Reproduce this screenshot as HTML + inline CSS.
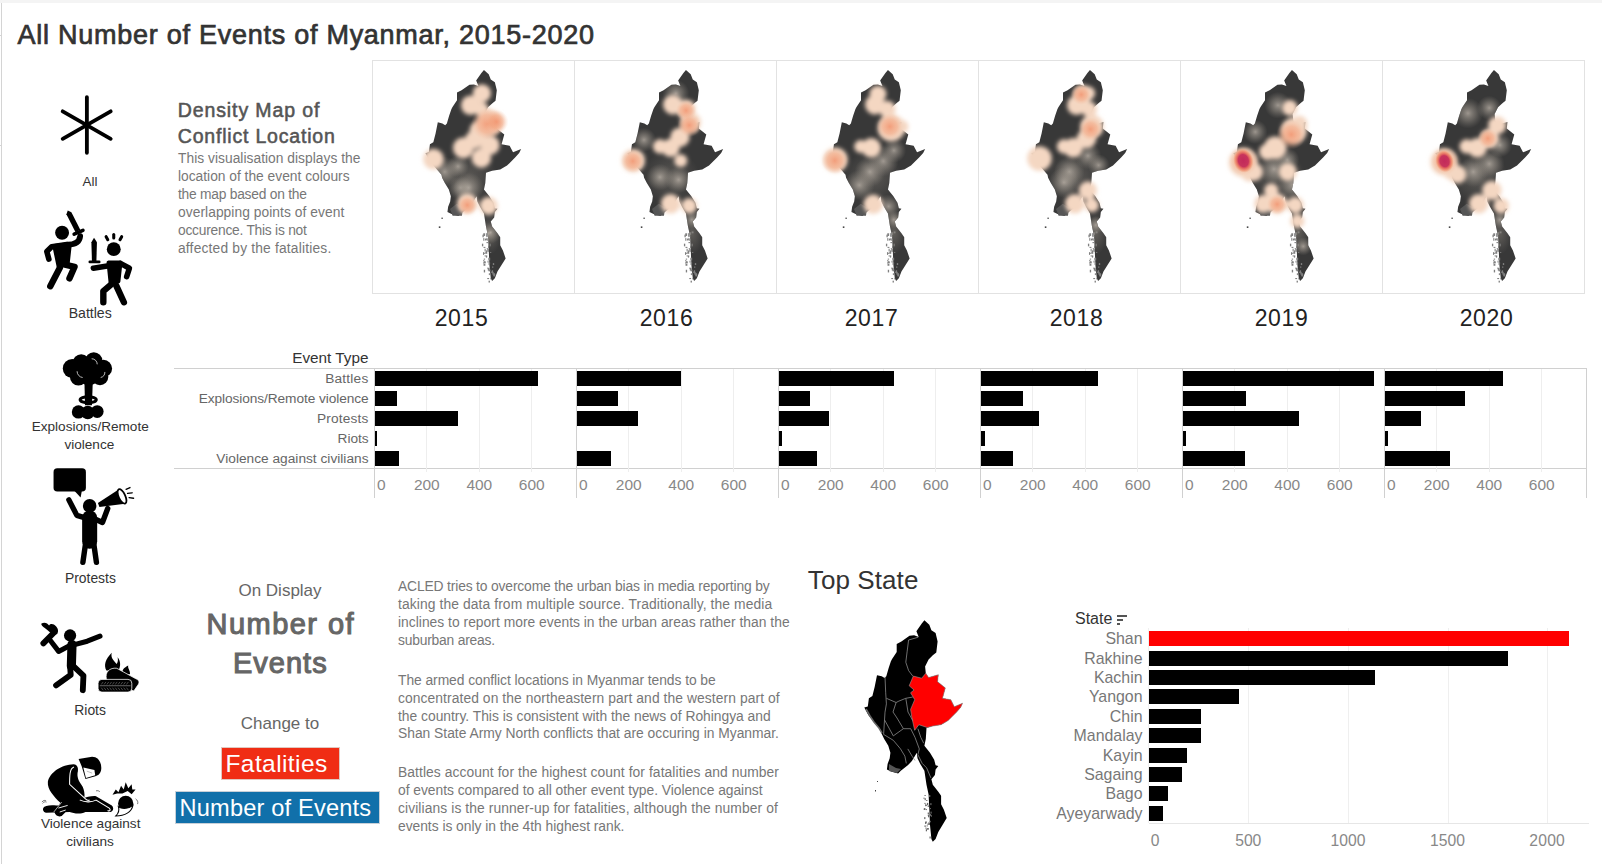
<!DOCTYPE html>
<html><head><meta charset="utf-8">
<style>
html,body{margin:0;padding:0;background:#fff;}
body{width:1602px;height:864px;position:relative;overflow:hidden;font-family:"Liberation Sans",sans-serif;}
.t{position:absolute;white-space:nowrap;}
.r{position:absolute;}
svg{position:absolute;}
</style></head><body>
<div class="r" style="left:0px;top:0px;width:1602px;height:3px;background:#f4f4f4;"></div><div class="r" style="left:1px;top:3px;width:1px;height:861px;background:#d4d4d4;"></div><div class="r" style="left:0px;top:35px;width:1px;height:1px;background:#d4d4d4;"></div><div class="r" style="left:0px;top:145px;width:1px;height:1px;background:#d4d4d4;"></div><div class="t" style="top:18.54px;font-size:27px;line-height:32.4px;color:#333;letter-spacing:0.737px;left:17.6px;-webkit-text-stroke:0.7px #333;">All Number of Events of Myanmar, 2015-2020</div><div class="t" style="top:98.54px;font-size:19.5px;line-height:23.4px;color:#555;letter-spacing:0.885px;left:177.8px;-webkit-text-stroke:0.55px #555;">Density Map of</div><div class="t" style="top:125.44px;font-size:19.5px;line-height:23.4px;color:#555;letter-spacing:0.803px;left:177.8px;-webkit-text-stroke:0.55px #555;">Conflict Location</div><div class="t" style="top:150.64px;font-size:13.8px;line-height:16.56px;color:#777;letter-spacing:0.023px;left:178px;">This visualisation displays the</div><div class="t" style="top:168.64px;font-size:13.8px;line-height:16.56px;color:#777;letter-spacing:-0.009px;left:178px;">location of the event colours</div><div class="t" style="top:186.64px;font-size:13.8px;line-height:16.56px;color:#777;letter-spacing:-0.242px;left:178px;">the map based on the</div><div class="t" style="top:204.64px;font-size:13.8px;line-height:16.56px;color:#777;letter-spacing:0.052px;left:178px;">overlapping points of event</div><div class="t" style="top:222.64px;font-size:13.8px;line-height:16.56px;color:#777;letter-spacing:-0.243px;left:178px;">occurence. This is not</div><div class="t" style="top:240.64px;font-size:13.8px;line-height:16.56px;color:#777;letter-spacing:0.181px;left:178px;">affected by the fatalities.</div><div class="r" style="left:372px;top:60px;width:1213px;height:1px;background:#e2e2e2;"></div><div class="r" style="left:372px;top:293px;width:1213px;height:1px;background:#e2e2e2;"></div><div class="r" style="left:372px;top:60px;width:1px;height:234px;background:#e2e2e2;"></div><div class="r" style="left:574px;top:60px;width:1px;height:234px;background:#e2e2e2;"></div><div class="r" style="left:776px;top:60px;width:1px;height:234px;background:#e2e2e2;"></div><div class="r" style="left:978px;top:60px;width:1px;height:234px;background:#e2e2e2;"></div><div class="r" style="left:1180px;top:60px;width:1px;height:234px;background:#e2e2e2;"></div><div class="r" style="left:1382px;top:60px;width:1px;height:234px;background:#e2e2e2;"></div><div class="r" style="left:1584px;top:60px;width:1px;height:234px;background:#e2e2e2;"></div><div class="t" style="top:304.63px;font-size:23px;line-height:27.6px;color:#222;letter-spacing:0.6px;left:-38.5px;width:1000px;text-align:center;">2015</div><div class="t" style="top:304.63px;font-size:23px;line-height:27.6px;color:#222;letter-spacing:0.6px;left:166.5px;width:1000px;text-align:center;">2016</div><div class="t" style="top:304.63px;font-size:23px;line-height:27.6px;color:#222;letter-spacing:0.6px;left:371.5px;width:1000px;text-align:center;">2017</div><div class="t" style="top:304.63px;font-size:23px;line-height:27.6px;color:#222;letter-spacing:0.6px;left:576.5px;width:1000px;text-align:center;">2018</div><div class="t" style="top:304.63px;font-size:23px;line-height:27.6px;color:#222;letter-spacing:0.6px;left:781.5px;width:1000px;text-align:center;">2019</div><div class="t" style="top:304.63px;font-size:23px;line-height:27.6px;color:#222;letter-spacing:0.6px;left:986.5px;width:1000px;text-align:center;">2020</div><div class="t" style="top:348.92px;font-size:15.3px;line-height:18.36px;color:#333;left:-631.5px;width:1000px;text-align:right;">Event Type</div><div class="r" style="left:174px;top:368px;width:1413px;height:1px;background:#d0d0d0;"></div><div class="r" style="left:174px;top:468px;width:1413px;height:1px;background:#d0d0d0;"></div><div class="t" style="top:370.93px;font-size:13.7px;line-height:16.44px;color:#666;letter-spacing:0.217px;left:-631.5px;width:1000px;text-align:right;">Battles</div><div class="t" style="top:390.93px;font-size:13.7px;line-height:16.44px;color:#666;letter-spacing:-0.08px;left:-631.5px;width:1000px;text-align:right;">Explosions/Remote violence</div><div class="t" style="top:410.93px;font-size:13.7px;line-height:16.44px;color:#666;letter-spacing:0.15px;left:-631.5px;width:1000px;text-align:right;">Protests</div><div class="t" style="top:430.93px;font-size:13.7px;line-height:16.44px;color:#666;letter-spacing:-0.05px;left:-631.5px;width:1000px;text-align:right;">Riots</div><div class="t" style="top:450.93px;font-size:13.7px;line-height:16.44px;color:#666;letter-spacing:0.01px;left:-631.5px;width:1000px;text-align:right;">Violence against civilians</div><div class="r" style="left:426px;top:369px;width:1px;height:103px;background:#eeeeee;"></div><div class="r" style="left:479px;top:369px;width:1px;height:103px;background:#eeeeee;"></div><div class="r" style="left:531px;top:369px;width:1px;height:103px;background:#eeeeee;"></div><div class="r" style="left:374px;top:368px;width:1px;height:130px;background:#d0d0d0;"></div><div class="r" style="left:375px;top:371px;width:163px;height:15px;background:#000;"></div><div class="r" style="left:375px;top:391px;width:22px;height:15px;background:#000;"></div><div class="r" style="left:375px;top:411px;width:83px;height:15px;background:#000;"></div><div class="r" style="left:375px;top:431px;width:2px;height:15px;background:#000;"></div><div class="r" style="left:375px;top:451px;width:24px;height:15px;background:#000;"></div><div class="t" style="top:476.23px;font-size:15.5px;line-height:18.6px;color:#888;left:377px;">0</div><div class="t" style="top:476.23px;font-size:15.5px;line-height:18.6px;color:#888;left:-73.19999999999999px;width:1000px;text-align:center;">200</div><div class="t" style="top:476.23px;font-size:15.5px;line-height:18.6px;color:#888;left:-20.69999999999999px;width:1000px;text-align:center;">400</div><div class="t" style="top:476.23px;font-size:15.5px;line-height:18.6px;color:#888;left:31.799999999999955px;width:1000px;text-align:center;">600</div><div class="r" style="left:628px;top:369px;width:1px;height:103px;background:#eeeeee;"></div><div class="r" style="left:681px;top:369px;width:1px;height:103px;background:#eeeeee;"></div><div class="r" style="left:733px;top:369px;width:1px;height:103px;background:#eeeeee;"></div><div class="r" style="left:576px;top:368px;width:1px;height:130px;background:#d0d0d0;"></div><div class="r" style="left:577px;top:371px;width:104px;height:15px;background:#000;"></div><div class="r" style="left:577px;top:391px;width:41px;height:15px;background:#000;"></div><div class="r" style="left:577px;top:411px;width:61px;height:15px;background:#000;"></div><div class="r" style="left:577px;top:451px;width:34px;height:15px;background:#000;"></div><div class="t" style="top:476.23px;font-size:15.5px;line-height:18.6px;color:#888;left:579px;">0</div><div class="t" style="top:476.23px;font-size:15.5px;line-height:18.6px;color:#888;left:128.79999999999995px;width:1000px;text-align:center;">200</div><div class="t" style="top:476.23px;font-size:15.5px;line-height:18.6px;color:#888;left:181.29999999999995px;width:1000px;text-align:center;">400</div><div class="t" style="top:476.23px;font-size:15.5px;line-height:18.6px;color:#888;left:233.79999999999995px;width:1000px;text-align:center;">600</div><div class="r" style="left:830px;top:369px;width:1px;height:103px;background:#eeeeee;"></div><div class="r" style="left:883px;top:369px;width:1px;height:103px;background:#eeeeee;"></div><div class="r" style="left:935px;top:369px;width:1px;height:103px;background:#eeeeee;"></div><div class="r" style="left:778px;top:368px;width:1px;height:130px;background:#d0d0d0;"></div><div class="r" style="left:779px;top:371px;width:115px;height:15px;background:#000;"></div><div class="r" style="left:779px;top:391px;width:31px;height:15px;background:#000;"></div><div class="r" style="left:779px;top:411px;width:50px;height:15px;background:#000;"></div><div class="r" style="left:779px;top:431px;width:3px;height:15px;background:#000;"></div><div class="r" style="left:779px;top:451px;width:38px;height:15px;background:#000;"></div><div class="t" style="top:476.23px;font-size:15.5px;line-height:18.6px;color:#888;left:781px;">0</div><div class="t" style="top:476.23px;font-size:15.5px;line-height:18.6px;color:#888;left:330.79999999999995px;width:1000px;text-align:center;">200</div><div class="t" style="top:476.23px;font-size:15.5px;line-height:18.6px;color:#888;left:383.29999999999995px;width:1000px;text-align:center;">400</div><div class="t" style="top:476.23px;font-size:15.5px;line-height:18.6px;color:#888;left:435.79999999999995px;width:1000px;text-align:center;">600</div><div class="r" style="left:1032px;top:369px;width:1px;height:103px;background:#eeeeee;"></div><div class="r" style="left:1085px;top:369px;width:1px;height:103px;background:#eeeeee;"></div><div class="r" style="left:1137px;top:369px;width:1px;height:103px;background:#eeeeee;"></div><div class="r" style="left:980px;top:368px;width:1px;height:130px;background:#d0d0d0;"></div><div class="r" style="left:981px;top:371px;width:117px;height:15px;background:#000;"></div><div class="r" style="left:981px;top:391px;width:42px;height:15px;background:#000;"></div><div class="r" style="left:981px;top:411px;width:58px;height:15px;background:#000;"></div><div class="r" style="left:981px;top:431px;width:4px;height:15px;background:#000;"></div><div class="r" style="left:981px;top:451px;width:32px;height:15px;background:#000;"></div><div class="t" style="top:476.23px;font-size:15.5px;line-height:18.6px;color:#888;left:983px;">0</div><div class="t" style="top:476.23px;font-size:15.5px;line-height:18.6px;color:#888;left:532.8px;width:1000px;text-align:center;">200</div><div class="t" style="top:476.23px;font-size:15.5px;line-height:18.6px;color:#888;left:585.3px;width:1000px;text-align:center;">400</div><div class="t" style="top:476.23px;font-size:15.5px;line-height:18.6px;color:#888;left:637.8px;width:1000px;text-align:center;">600</div><div class="r" style="left:1234px;top:369px;width:1px;height:103px;background:#eeeeee;"></div><div class="r" style="left:1287px;top:369px;width:1px;height:103px;background:#eeeeee;"></div><div class="r" style="left:1339px;top:369px;width:1px;height:103px;background:#eeeeee;"></div><div class="r" style="left:1182px;top:368px;width:1px;height:130px;background:#d0d0d0;"></div><div class="r" style="left:1183px;top:371px;width:191px;height:15px;background:#000;"></div><div class="r" style="left:1183px;top:391px;width:63px;height:15px;background:#000;"></div><div class="r" style="left:1183px;top:411px;width:116px;height:15px;background:#000;"></div><div class="r" style="left:1183px;top:431px;width:3px;height:15px;background:#000;"></div><div class="r" style="left:1183px;top:451px;width:62px;height:15px;background:#000;"></div><div class="t" style="top:476.23px;font-size:15.5px;line-height:18.6px;color:#888;left:1185px;">0</div><div class="t" style="top:476.23px;font-size:15.5px;line-height:18.6px;color:#888;left:734.8px;width:1000px;text-align:center;">200</div><div class="t" style="top:476.23px;font-size:15.5px;line-height:18.6px;color:#888;left:787.3px;width:1000px;text-align:center;">400</div><div class="t" style="top:476.23px;font-size:15.5px;line-height:18.6px;color:#888;left:839.8px;width:1000px;text-align:center;">600</div><div class="r" style="left:1436px;top:369px;width:1px;height:103px;background:#eeeeee;"></div><div class="r" style="left:1489px;top:369px;width:1px;height:103px;background:#eeeeee;"></div><div class="r" style="left:1541px;top:369px;width:1px;height:103px;background:#eeeeee;"></div><div class="r" style="left:1384px;top:368px;width:1px;height:130px;background:#d0d0d0;"></div><div class="r" style="left:1385px;top:371px;width:118px;height:15px;background:#000;"></div><div class="r" style="left:1385px;top:391px;width:80px;height:15px;background:#000;"></div><div class="r" style="left:1385px;top:411px;width:36px;height:15px;background:#000;"></div><div class="r" style="left:1385px;top:431px;width:3px;height:15px;background:#000;"></div><div class="r" style="left:1385px;top:451px;width:65px;height:15px;background:#000;"></div><div class="t" style="top:476.23px;font-size:15.5px;line-height:18.6px;color:#888;left:1387px;">0</div><div class="t" style="top:476.23px;font-size:15.5px;line-height:18.6px;color:#888;left:936.8px;width:1000px;text-align:center;">200</div><div class="t" style="top:476.23px;font-size:15.5px;line-height:18.6px;color:#888;left:989.3px;width:1000px;text-align:center;">400</div><div class="t" style="top:476.23px;font-size:15.5px;line-height:18.6px;color:#888;left:1041.8px;width:1000px;text-align:center;">600</div><div class="r" style="left:1586px;top:368px;width:1px;height:130px;background:#d0d0d0;"></div><div class="t" style="top:580.91px;font-size:17px;line-height:20.4px;color:#666;left:-220px;width:1000px;text-align:center;">On Display</div><div class="t" style="top:606.55px;font-size:29px;line-height:34.8px;color:#666;letter-spacing:1.469px;left:-219.2px;width:1000px;text-align:center;-webkit-text-stroke:1.1px #666;">Number of</div><div class="t" style="top:646.35px;font-size:29px;line-height:34.8px;color:#666;letter-spacing:1.03px;left:-219.7px;width:1000px;text-align:center;-webkit-text-stroke:1.1px #666;">Events</div><div class="t" style="top:713.71px;font-size:17px;line-height:20.4px;color:#666;left:-220px;width:1000px;text-align:center;">Change to</div><div class="r" style="left:222px;top:748px;width:117px;height:31px;background:#f02d14;box-shadow:0 0 0 1px #e0c8c0;"></div><div class="t" style="top:749.11px;font-size:24.5px;line-height:29.4px;color:#fff;letter-spacing:0.406px;left:225.5px;">Fatalities</div><div class="r" style="left:176px;top:792px;width:203px;height:31px;background:#1170aa;box-shadow:0 0 0 1px #c8d0d8;"></div><div class="t" style="top:793.56px;font-size:23.6px;line-height:28.32px;color:#fff;letter-spacing:0.187px;left:179.5px;">Number of Events</div><div class="t" style="top:578.49px;font-size:13.85px;line-height:16.62px;color:#777;letter-spacing:-0.157px;left:398px;">ACLED tries to overcome the urban bias in media reporting by</div><div class="t" style="top:596.29px;font-size:13.85px;line-height:16.62px;color:#777;letter-spacing:0.096px;left:398px;">taking the data from multiple source. Traditionally, the media</div><div class="t" style="top:614.09px;font-size:13.85px;line-height:16.62px;color:#777;letter-spacing:0.011px;left:398px;">inclines to report more events in the urban areas rather than the</div><div class="t" style="top:631.89px;font-size:13.85px;line-height:16.62px;color:#777;letter-spacing:-0.214px;left:398px;">suburban areas.</div><div class="t" style="top:672.09px;font-size:13.85px;line-height:16.62px;color:#777;letter-spacing:-0.064px;left:398px;">The armed conflict locations in Myanmar tends to be</div><div class="t" style="top:689.89px;font-size:13.85px;line-height:16.62px;color:#777;letter-spacing:0.075px;left:398px;">concentrated on the northeastern part and the western part of</div><div class="t" style="top:707.69px;font-size:13.85px;line-height:16.62px;color:#777;letter-spacing:-0.013px;left:398px;">the country. This is consistent with the news of Rohingya and</div><div class="t" style="top:725.49px;font-size:13.85px;line-height:16.62px;color:#777;letter-spacing:-0.012px;left:398px;">Shan State Army North conflicts that are occuring in Myanmar.</div><div class="t" style="top:764.29px;font-size:13.85px;line-height:16.62px;color:#777;letter-spacing:0.075px;left:398px;">Battles account for the highest count for fatalities and number</div><div class="t" style="top:782.09px;font-size:13.85px;line-height:16.62px;color:#777;letter-spacing:-0.039px;left:398px;">of events compared to all other event type. Violence against</div><div class="t" style="top:799.89px;font-size:13.85px;line-height:16.62px;color:#777;letter-spacing:0.091px;left:398px;">civilians is the runner-up for fatalities, although the number of</div><div class="t" style="top:817.69px;font-size:13.85px;line-height:16.62px;color:#777;letter-spacing:-0.037px;left:398px;">events is only in the 4th highest rank.</div><div class="t" style="top:565.49px;font-size:26px;line-height:31.2px;color:#333;letter-spacing:0.094px;left:807.8px;">Top State</div><div class="t" style="top:609.06px;font-size:16px;line-height:19.2px;color:#333;left:1075px;">State</div><div class="r" style="left:1117px;top:615px;width:10px;height:1.6px;background:#555;"></div><div class="r" style="left:1117px;top:619px;width:6px;height:1.6px;background:#555;"></div><div class="r" style="left:1117px;top:623px;width:3px;height:1.6px;background:#555;"></div><div class="r" style="left:1248px;top:628px;width:1px;height:195px;background:#efefef;"></div><div class="r" style="left:1348px;top:628px;width:1px;height:195px;background:#efefef;"></div><div class="r" style="left:1448px;top:628px;width:1px;height:195px;background:#efefef;"></div><div class="r" style="left:1547px;top:628px;width:1px;height:195px;background:#efefef;"></div><div class="r" style="left:1148px;top:628px;width:1px;height:195px;background:#f0f0f0;"></div><div class="r" style="left:1149px;top:823px;width:440px;height:1px;background:#e6e6e6;"></div><div class="r" style="left:1149px;top:631px;width:420px;height:15px;background:#ff0000;"></div><div class="t" style="top:629.35px;font-size:15.9px;line-height:19.08px;color:#777;left:142.5px;width:1000px;text-align:right;">Shan</div><div class="r" style="left:1149px;top:651px;width:359px;height:15px;background:#000;"></div><div class="t" style="top:649.35px;font-size:15.9px;line-height:19.08px;color:#777;left:142.5px;width:1000px;text-align:right;">Rakhine</div><div class="r" style="left:1149px;top:670px;width:226px;height:15px;background:#000;"></div><div class="t" style="top:668.35px;font-size:15.9px;line-height:19.08px;color:#777;left:142.5px;width:1000px;text-align:right;">Kachin</div><div class="r" style="left:1149px;top:689px;width:90px;height:15px;background:#000;"></div><div class="t" style="top:687.35px;font-size:15.9px;line-height:19.08px;color:#777;left:142.5px;width:1000px;text-align:right;">Yangon</div><div class="r" style="left:1149px;top:709px;width:52px;height:15px;background:#000;"></div><div class="t" style="top:707.35px;font-size:15.9px;line-height:19.08px;color:#777;left:142.5px;width:1000px;text-align:right;">Chin</div><div class="r" style="left:1149px;top:728px;width:52px;height:15px;background:#000;"></div><div class="t" style="top:726.35px;font-size:15.9px;line-height:19.08px;color:#777;left:142.5px;width:1000px;text-align:right;">Mandalay</div><div class="r" style="left:1149px;top:748px;width:38px;height:15px;background:#000;"></div><div class="t" style="top:746.35px;font-size:15.9px;line-height:19.08px;color:#777;left:142.5px;width:1000px;text-align:right;">Kayin</div><div class="r" style="left:1149px;top:767px;width:33px;height:15px;background:#000;"></div><div class="t" style="top:765.35px;font-size:15.9px;line-height:19.08px;color:#777;left:142.5px;width:1000px;text-align:right;">Sagaing</div><div class="r" style="left:1149px;top:786px;width:19px;height:15px;background:#000;"></div><div class="t" style="top:784.35px;font-size:15.9px;line-height:19.08px;color:#777;left:142.5px;width:1000px;text-align:right;">Bago</div><div class="r" style="left:1149px;top:806px;width:14px;height:15px;background:#000;"></div><div class="t" style="top:804.35px;font-size:15.9px;line-height:19.08px;color:#777;left:142.5px;width:1000px;text-align:right;">Ayeyarwady</div><div class="t" style="top:831.54px;font-size:15.7px;line-height:18.84px;color:#888;left:655px;width:1000px;text-align:center;">0</div><div class="t" style="top:831.54px;font-size:15.7px;line-height:18.84px;color:#888;letter-spacing:-0.1px;left:748.25px;width:1000px;text-align:center;">500</div><div class="t" style="top:831.54px;font-size:15.7px;line-height:18.84px;color:#888;letter-spacing:0.017px;left:847.8999999999999px;width:1000px;text-align:center;">1000</div><div class="t" style="top:831.54px;font-size:15.7px;line-height:18.84px;color:#888;letter-spacing:0.017px;left:947.55px;width:1000px;text-align:center;">1500</div><div class="t" style="top:831.54px;font-size:15.7px;line-height:18.84px;color:#888;letter-spacing:0.183px;left:1047.1999999999998px;width:1000px;text-align:center;">2000</div><div class="t" style="top:174.02px;font-size:13.4px;line-height:16.08px;color:#333;left:-410px;width:1000px;text-align:center;">All</div><div class="t" style="top:304.55px;font-size:14.1px;line-height:16.92px;color:#333;left:-409.8px;width:1000px;text-align:center;">Battles</div><div class="t" style="top:419.23px;font-size:13.6px;line-height:16.32px;color:#333;left:-409.8px;width:1000px;text-align:center;">Explosions/Remote</div><div class="t" style="top:437.23px;font-size:13.6px;line-height:16.32px;color:#333;left:-410.7px;width:1000px;text-align:center;">violence</div><div class="t" style="top:569.84px;font-size:13.9px;line-height:16.68px;color:#333;left:-409.6px;width:1000px;text-align:center;">Protests</div><div class="t" style="top:702.24px;font-size:13.9px;line-height:16.68px;color:#333;left:-409.9px;width:1000px;text-align:center;">Riots</div><div class="t" style="top:816.33px;font-size:13.6px;line-height:16.32px;color:#333;left:-409.3px;width:1000px;text-align:center;">Violence against</div><div class="t" style="top:833.93px;font-size:13.6px;line-height:16.32px;color:#333;left:-410px;width:1000px;text-align:center;">civilians</div>
<svg width="0" height="0" style="position:absolute"><defs>
<clipPath id="mmclip"><path d="M277.6,37.9 L295.5,53.7 L303.2,73.7 L318.6,83.7 L325.9,113.4 L321.1,153.1 L308.3,163.1 L293.0,177.8 L280.2,202.8 L282.7,227.5 L293.0,242.5 L328.4,232.5 L325.9,257.6 L354.0,279.7 L343.8,316.9 L374.1,321.9 L386.9,347.0 L417.3,334.5 L410.0,349.5 L394.6,366.6 L364.3,396.7 L338.7,411.3 L308.3,416.4 L285.3,423.2 L282.7,462.1 L277.6,486.8 L298.1,511.9 L313.4,536.5 L318.6,556.6 L328.4,559.1 L318.6,571.2 L316.0,591.3 L303.2,606.3 L308.3,625.9 L328.4,651.0 L338.7,665.7 L338.7,695.7 L348.9,715.4 L359.1,745.4 L343.8,770.1 L328.4,794.8 L318.6,819.8 L308.3,829.8 L303.2,819.8 L298.1,770.1 L295.5,710.4 L293.0,660.6 L285.3,625.9 L277.6,576.2 L262.6,551.6 L252.4,531.5 L249.8,511.9 L231.9,541.5 L216.9,556.6 L191.4,576.2 L181.5,586.2 L155.9,578.7 L140.5,571.2 L143.1,551.6 L150.8,531.5 L153.3,511.9 L145.7,486.8 L130.7,462.1 L120.4,442.1 L118.2,431.4 L93.0,401.7 L72.5,376.7 L57.9,350.2 L70.7,345.9 L74.7,316.9 L87.5,308.7 L95.9,275.8 L104.3,234.3 L121.5,238.2 L132.1,244.7 L138.3,238.2 L146.8,209.3 L155.2,184.6 L159.5,176.4 L176.4,151.3 L176.4,122.4 L193.5,114.1 L223.2,93.4 L240.0,91.6 L256.8,97.7 L248.4,76.9 L267.4,50.1Z"/></clipPath>
<filter id="bp" x="-60%" y="-60%" width="220%" height="220%"><feGaussianBlur stdDeviation="7"/></filter>
<filter id="bo" x="-60%" y="-60%" width="220%" height="220%"><feGaussianBlur stdDeviation="9"/></filter>
<radialGradient id="gg"><stop offset="0" stop-color="#c8beb3" stop-opacity="0.7"/><stop offset="0.5" stop-color="#a39b91" stop-opacity="0.42"/><stop offset="1" stop-color="#8a847c" stop-opacity="0"/></radialGradient>
<radialGradient id="go"><stop offset="0" stop-color="#f2906a" stop-opacity="0.8"/><stop offset="0.55" stop-color="#f3a07a" stop-opacity="0.5"/><stop offset="1" stop-color="#f4c0a4" stop-opacity="0"/></radialGradient>
<radialGradient id="gr"><stop offset="0" stop-color="#c22a5a"/><stop offset="0.5" stop-color="#c8345c"/><stop offset="0.62" stop-color="#e0605e"/><stop offset="0.8" stop-color="#ee8a6c" stop-opacity="0.8"/><stop offset="1" stop-color="#f2a47e" stop-opacity="0"/></radialGradient>
<radialGradient id="gbase" cx="0.5" cy="0.5" r="0.5"><stop offset="0" stop-color="#8a847c" stop-opacity="0.7"/><stop offset="1" stop-color="#8a847c" stop-opacity="0"/></radialGradient>
</defs></svg>
<svg style="left:410px;top:60px" width="130" height="230" viewBox="0 0 488 864"><path d="M277.6,37.9 L295.5,53.7 L303.2,73.7 L318.6,83.7 L325.9,113.4 L321.1,153.1 L308.3,163.1 L293.0,177.8 L280.2,202.8 L282.7,227.5 L293.0,242.5 L328.4,232.5 L325.9,257.6 L354.0,279.7 L343.8,316.9 L374.1,321.9 L386.9,347.0 L417.3,334.5 L410.0,349.5 L394.6,366.6 L364.3,396.7 L338.7,411.3 L308.3,416.4 L285.3,423.2 L282.7,462.1 L277.6,486.8 L298.1,511.9 L313.4,536.5 L318.6,556.6 L328.4,559.1 L318.6,571.2 L316.0,591.3 L303.2,606.3 L308.3,625.9 L328.4,651.0 L338.7,665.7 L338.7,695.7 L348.9,715.4 L359.1,745.4 L343.8,770.1 L328.4,794.8 L318.6,819.8 L308.3,829.8 L303.2,819.8 L298.1,770.1 L295.5,710.4 L293.0,660.6 L285.3,625.9 L277.6,576.2 L262.6,551.6 L252.4,531.5 L249.8,511.9 L231.9,541.5 L216.9,556.6 L191.4,576.2 L181.5,586.2 L155.9,578.7 L140.5,571.2 L143.1,551.6 L150.8,531.5 L153.3,511.9 L145.7,486.8 L130.7,462.1 L120.4,442.1 L118.2,431.4 L93.0,401.7 L72.5,376.7 L57.9,350.2 L70.7,345.9 L74.7,316.9 L87.5,308.7 L95.9,275.8 L104.3,234.3 L121.5,238.2 L132.1,244.7 L138.3,238.2 L146.8,209.3 L155.2,184.6 L159.5,176.4 L176.4,151.3 L176.4,122.4 L193.5,114.1 L223.2,93.4 L240.0,91.6 L256.8,97.7 L248.4,76.9 L267.4,50.1Z" fill="#383838"/><rect x="276" y="702" width="7" height="4" fill="#808080"/><rect x="286" y="654" width="5" height="10" fill="#808080"/><rect x="285" y="651" width="4" height="4" fill="#808080"/><rect x="274" y="722" width="4" height="10" fill="#808080"/><rect x="301" y="721" width="4" height="4" fill="#808080"/><rect x="295" y="760" width="4" height="10" fill="#808080"/><rect x="275" y="751" width="4" height="4" fill="#808080"/><rect x="277" y="746" width="5" height="4" fill="#808080"/><rect x="294" y="743" width="7" height="10" fill="#808080"/><rect x="289" y="674" width="7" height="4" fill="#808080"/><rect x="291" y="711" width="4" height="10" fill="#808080"/><rect x="275" y="651" width="7" height="10" fill="#808080"/><rect x="283" y="721" width="7" height="7" fill="#808080"/><rect x="280" y="709" width="4" height="10" fill="#808080"/><rect x="277" y="788" width="5" height="10" fill="#808080"/><rect x="285" y="734" width="5" height="7" fill="#808080"/><rect x="276" y="756" width="7" height="7" fill="#808080"/><rect x="281" y="671" width="5" height="7" fill="#808080"/><rect x="290" y="647" width="7" height="10" fill="#808080"/><rect x="307" y="790" width="5" height="10" fill="#808080"/><rect x="288" y="707" width="5" height="4" fill="#808080"/><rect x="313" y="800" width="5" height="10" fill="#808080"/><rect x="276" y="766" width="7" height="7" fill="#808080"/><rect x="311" y="763" width="5" height="7" fill="#808080"/><rect x="308" y="776" width="5" height="4" fill="#808080"/><rect x="290" y="819" width="7" height="4" fill="#808080"/><rect x="280" y="734" width="5" height="4" fill="#808080"/><rect x="290" y="780" width="5" height="4" fill="#808080"/><rect x="283" y="672" width="5" height="4" fill="#808080"/><rect x="309" y="796" width="5" height="10" fill="#808080"/><rect x="284" y="719" width="5" height="4" fill="#808080"/><rect x="275" y="669" width="4" height="10" fill="#808080"/><rect x="287" y="684" width="7" height="4" fill="#808080"/><rect x="270" y="690" width="5" height="10" fill="#808080"/><rect x="291" y="710" width="4" height="10" fill="#808080"/><rect x="313" y="803" width="7" height="10" fill="#808080"/><rect x="292" y="781" width="7" height="10" fill="#808080"/><rect x="285" y="715" width="4" height="7" fill="#808080"/><rect x="275" y="761" width="4" height="4" fill="#808080"/><rect x="276" y="724" width="7" height="4" fill="#808080"/><rect x="288" y="659" width="7" height="4" fill="#808080"/><rect x="301" y="820" width="4" height="4" fill="#808080"/><rect x="279" y="757" width="5" height="7" fill="#808080"/><rect x="291" y="754" width="4" height="7" fill="#808080"/><rect x="295" y="829" width="5" height="7" fill="#808080"/><rect x="272" y="656" width="5" height="10" fill="#808080"/><rect x="299" y="690" width="4" height="10" fill="#808080"/><rect x="299" y="644" width="7" height="7" fill="#808080"/><rect x="287" y="668" width="4" height="10" fill="#808080"/><rect x="293" y="697" width="4" height="10" fill="#808080"/><rect x="296" y="801" width="4" height="7" fill="#808080"/><rect x="295" y="787" width="7" height="7" fill="#808080"/><rect x="297" y="761" width="4" height="4" fill="#808080"/><rect x="304" y="795" width="4" height="4" fill="#808080"/><rect x="285" y="738" width="4" height="4" fill="#808080"/><rect x="108" y="625" width="6" height="6" fill="#444"/><rect x="118" y="592" width="5" height="5" fill="#444"/><path d="M150,560 L175,540 L200,555 L195,585 L160,585Z" fill="#555"/><g clip-path="url(#mmclip)"><ellipse cx="220" cy="440" rx="110" ry="100" fill="url(#gbase)" opacity="0.6"/><ellipse cx="300" cy="650" rx="45" ry="80" fill="url(#gbase)" opacity="0.7"/><circle cx="180.0" cy="400.0" r="41.4" fill="url(#gg)"/><circle cx="190.0" cy="480.0" r="46.0" fill="url(#gg)"/><circle cx="220.0" cy="480.0" r="57.49999999999999" fill="url(#gg)"/><circle cx="300.0" cy="650.0" r="41.4" fill="url(#gg)"/><circle cx="130.0" cy="420.0" r="57.49999999999999" fill="url(#gg)"/></g><g filter="url(#bp)"><circle cx="270.0" cy="125.0" r="34.16" fill="#f4d7c2"/><circle cx="228.0" cy="170.0" r="36.6" fill="#f4d7c2"/><circle cx="268.0" cy="185.0" r="26.84" fill="#f4d7c2"/><circle cx="300.0" cy="235.0" r="48.8" fill="#f4d7c2"/><circle cx="260.0" cy="265.0" r="36.6" fill="#f4d7c2"/><circle cx="200.0" cy="330.0" r="39.04" fill="#f4d7c2"/><circle cx="240.0" cy="300.0" r="34.16" fill="#f4d7c2"/><circle cx="300.0" cy="320.0" r="36.6" fill="#f4d7c2"/><circle cx="268.0" cy="368.0" r="36.6" fill="#f4d7c2"/><circle cx="88.0" cy="372.0" r="39.04" fill="#f4d7c2"/><circle cx="215.0" cy="540.0" r="39.04" fill="#f4d7c2"/><circle cx="295.0" cy="548.0" r="34.16" fill="#f4d7c2"/></g><g><circle cx="290.0" cy="240.0" r="61.599999999999994" fill="url(#go)"/><circle cx="325.0" cy="232.0" r="44.8" fill="url(#go)"/><circle cx="215.0" cy="545.0" r="39.199999999999996" fill="url(#go)"/></g><g></g></svg>
<svg style="left:612px;top:60px" width="130" height="230" viewBox="0 0 488 864"><path d="M277.6,37.9 L295.5,53.7 L303.2,73.7 L318.6,83.7 L325.9,113.4 L321.1,153.1 L308.3,163.1 L293.0,177.8 L280.2,202.8 L282.7,227.5 L293.0,242.5 L328.4,232.5 L325.9,257.6 L354.0,279.7 L343.8,316.9 L374.1,321.9 L386.9,347.0 L417.3,334.5 L410.0,349.5 L394.6,366.6 L364.3,396.7 L338.7,411.3 L308.3,416.4 L285.3,423.2 L282.7,462.1 L277.6,486.8 L298.1,511.9 L313.4,536.5 L318.6,556.6 L328.4,559.1 L318.6,571.2 L316.0,591.3 L303.2,606.3 L308.3,625.9 L328.4,651.0 L338.7,665.7 L338.7,695.7 L348.9,715.4 L359.1,745.4 L343.8,770.1 L328.4,794.8 L318.6,819.8 L308.3,829.8 L303.2,819.8 L298.1,770.1 L295.5,710.4 L293.0,660.6 L285.3,625.9 L277.6,576.2 L262.6,551.6 L252.4,531.5 L249.8,511.9 L231.9,541.5 L216.9,556.6 L191.4,576.2 L181.5,586.2 L155.9,578.7 L140.5,571.2 L143.1,551.6 L150.8,531.5 L153.3,511.9 L145.7,486.8 L130.7,462.1 L120.4,442.1 L118.2,431.4 L93.0,401.7 L72.5,376.7 L57.9,350.2 L70.7,345.9 L74.7,316.9 L87.5,308.7 L95.9,275.8 L104.3,234.3 L121.5,238.2 L132.1,244.7 L138.3,238.2 L146.8,209.3 L155.2,184.6 L159.5,176.4 L176.4,151.3 L176.4,122.4 L193.5,114.1 L223.2,93.4 L240.0,91.6 L256.8,97.7 L248.4,76.9 L267.4,50.1Z" fill="#383838"/><rect x="276" y="702" width="7" height="4" fill="#808080"/><rect x="286" y="654" width="5" height="10" fill="#808080"/><rect x="285" y="651" width="4" height="4" fill="#808080"/><rect x="274" y="722" width="4" height="10" fill="#808080"/><rect x="301" y="721" width="4" height="4" fill="#808080"/><rect x="295" y="760" width="4" height="10" fill="#808080"/><rect x="275" y="751" width="4" height="4" fill="#808080"/><rect x="277" y="746" width="5" height="4" fill="#808080"/><rect x="294" y="743" width="7" height="10" fill="#808080"/><rect x="289" y="674" width="7" height="4" fill="#808080"/><rect x="291" y="711" width="4" height="10" fill="#808080"/><rect x="275" y="651" width="7" height="10" fill="#808080"/><rect x="283" y="721" width="7" height="7" fill="#808080"/><rect x="280" y="709" width="4" height="10" fill="#808080"/><rect x="277" y="788" width="5" height="10" fill="#808080"/><rect x="285" y="734" width="5" height="7" fill="#808080"/><rect x="276" y="756" width="7" height="7" fill="#808080"/><rect x="281" y="671" width="5" height="7" fill="#808080"/><rect x="290" y="647" width="7" height="10" fill="#808080"/><rect x="307" y="790" width="5" height="10" fill="#808080"/><rect x="288" y="707" width="5" height="4" fill="#808080"/><rect x="313" y="800" width="5" height="10" fill="#808080"/><rect x="276" y="766" width="7" height="7" fill="#808080"/><rect x="311" y="763" width="5" height="7" fill="#808080"/><rect x="308" y="776" width="5" height="4" fill="#808080"/><rect x="290" y="819" width="7" height="4" fill="#808080"/><rect x="280" y="734" width="5" height="4" fill="#808080"/><rect x="290" y="780" width="5" height="4" fill="#808080"/><rect x="283" y="672" width="5" height="4" fill="#808080"/><rect x="309" y="796" width="5" height="10" fill="#808080"/><rect x="284" y="719" width="5" height="4" fill="#808080"/><rect x="275" y="669" width="4" height="10" fill="#808080"/><rect x="287" y="684" width="7" height="4" fill="#808080"/><rect x="270" y="690" width="5" height="10" fill="#808080"/><rect x="291" y="710" width="4" height="10" fill="#808080"/><rect x="313" y="803" width="7" height="10" fill="#808080"/><rect x="292" y="781" width="7" height="10" fill="#808080"/><rect x="285" y="715" width="4" height="7" fill="#808080"/><rect x="275" y="761" width="4" height="4" fill="#808080"/><rect x="276" y="724" width="7" height="4" fill="#808080"/><rect x="288" y="659" width="7" height="4" fill="#808080"/><rect x="301" y="820" width="4" height="4" fill="#808080"/><rect x="279" y="757" width="5" height="7" fill="#808080"/><rect x="291" y="754" width="4" height="7" fill="#808080"/><rect x="295" y="829" width="5" height="7" fill="#808080"/><rect x="272" y="656" width="5" height="10" fill="#808080"/><rect x="299" y="690" width="4" height="10" fill="#808080"/><rect x="299" y="644" width="7" height="7" fill="#808080"/><rect x="287" y="668" width="4" height="10" fill="#808080"/><rect x="293" y="697" width="4" height="10" fill="#808080"/><rect x="296" y="801" width="4" height="7" fill="#808080"/><rect x="295" y="787" width="7" height="7" fill="#808080"/><rect x="297" y="761" width="4" height="4" fill="#808080"/><rect x="304" y="795" width="4" height="4" fill="#808080"/><rect x="285" y="738" width="4" height="4" fill="#808080"/><rect x="108" y="625" width="6" height="6" fill="#444"/><rect x="118" y="592" width="5" height="5" fill="#444"/><path d="M150,560 L175,540 L200,555 L195,585 L160,585Z" fill="#555"/><g clip-path="url(#mmclip)"><ellipse cx="220" cy="440" rx="110" ry="100" fill="url(#gbase)" opacity="0.6"/><ellipse cx="300" cy="650" rx="45" ry="80" fill="url(#gbase)" opacity="0.7"/><circle cx="240.0" cy="125.0" r="50.599999999999994" fill="url(#gg)"/><circle cx="120.0" cy="300.0" r="46.0" fill="url(#gg)"/><circle cx="180.0" cy="440.0" r="50.599999999999994" fill="url(#gg)"/><circle cx="250.0" cy="450.0" r="50.599999999999994" fill="url(#gg)"/><circle cx="300.0" cy="600.0" r="34.5" fill="url(#gg)"/></g><g filter="url(#bp)"><circle cx="228.0" cy="168.0" r="36.6" fill="#f4d7c2"/><circle cx="278.0" cy="185.0" r="36.6" fill="#f4d7c2"/><circle cx="295.0" cy="235.0" r="39.04" fill="#f4d7c2"/><circle cx="255.0" cy="290.0" r="36.6" fill="#f4d7c2"/><circle cx="220.0" cy="330.0" r="34.16" fill="#f4d7c2"/><circle cx="180.0" cy="325.0" r="26.84" fill="#f4d7c2"/><circle cx="258.0" cy="378.0" r="24.4" fill="#f4d7c2"/><circle cx="80.0" cy="378.0" r="43.92" fill="#f4d7c2"/><circle cx="220.0" cy="540.0" r="36.6" fill="#f4d7c2"/><circle cx="290.0" cy="548.0" r="29.28" fill="#f4d7c2"/></g><g><circle cx="278.0" cy="190.0" r="39.199999999999996" fill="url(#go)"/><circle cx="290.0" cy="245.0" r="44.8" fill="url(#go)"/><circle cx="78.0" cy="380.0" r="44.8" fill="url(#go)"/></g><g></g></svg>
<svg style="left:814px;top:60px" width="130" height="230" viewBox="0 0 488 864"><path d="M277.6,37.9 L295.5,53.7 L303.2,73.7 L318.6,83.7 L325.9,113.4 L321.1,153.1 L308.3,163.1 L293.0,177.8 L280.2,202.8 L282.7,227.5 L293.0,242.5 L328.4,232.5 L325.9,257.6 L354.0,279.7 L343.8,316.9 L374.1,321.9 L386.9,347.0 L417.3,334.5 L410.0,349.5 L394.6,366.6 L364.3,396.7 L338.7,411.3 L308.3,416.4 L285.3,423.2 L282.7,462.1 L277.6,486.8 L298.1,511.9 L313.4,536.5 L318.6,556.6 L328.4,559.1 L318.6,571.2 L316.0,591.3 L303.2,606.3 L308.3,625.9 L328.4,651.0 L338.7,665.7 L338.7,695.7 L348.9,715.4 L359.1,745.4 L343.8,770.1 L328.4,794.8 L318.6,819.8 L308.3,829.8 L303.2,819.8 L298.1,770.1 L295.5,710.4 L293.0,660.6 L285.3,625.9 L277.6,576.2 L262.6,551.6 L252.4,531.5 L249.8,511.9 L231.9,541.5 L216.9,556.6 L191.4,576.2 L181.5,586.2 L155.9,578.7 L140.5,571.2 L143.1,551.6 L150.8,531.5 L153.3,511.9 L145.7,486.8 L130.7,462.1 L120.4,442.1 L118.2,431.4 L93.0,401.7 L72.5,376.7 L57.9,350.2 L70.7,345.9 L74.7,316.9 L87.5,308.7 L95.9,275.8 L104.3,234.3 L121.5,238.2 L132.1,244.7 L138.3,238.2 L146.8,209.3 L155.2,184.6 L159.5,176.4 L176.4,151.3 L176.4,122.4 L193.5,114.1 L223.2,93.4 L240.0,91.6 L256.8,97.7 L248.4,76.9 L267.4,50.1Z" fill="#383838"/><rect x="276" y="702" width="7" height="4" fill="#808080"/><rect x="286" y="654" width="5" height="10" fill="#808080"/><rect x="285" y="651" width="4" height="4" fill="#808080"/><rect x="274" y="722" width="4" height="10" fill="#808080"/><rect x="301" y="721" width="4" height="4" fill="#808080"/><rect x="295" y="760" width="4" height="10" fill="#808080"/><rect x="275" y="751" width="4" height="4" fill="#808080"/><rect x="277" y="746" width="5" height="4" fill="#808080"/><rect x="294" y="743" width="7" height="10" fill="#808080"/><rect x="289" y="674" width="7" height="4" fill="#808080"/><rect x="291" y="711" width="4" height="10" fill="#808080"/><rect x="275" y="651" width="7" height="10" fill="#808080"/><rect x="283" y="721" width="7" height="7" fill="#808080"/><rect x="280" y="709" width="4" height="10" fill="#808080"/><rect x="277" y="788" width="5" height="10" fill="#808080"/><rect x="285" y="734" width="5" height="7" fill="#808080"/><rect x="276" y="756" width="7" height="7" fill="#808080"/><rect x="281" y="671" width="5" height="7" fill="#808080"/><rect x="290" y="647" width="7" height="10" fill="#808080"/><rect x="307" y="790" width="5" height="10" fill="#808080"/><rect x="288" y="707" width="5" height="4" fill="#808080"/><rect x="313" y="800" width="5" height="10" fill="#808080"/><rect x="276" y="766" width="7" height="7" fill="#808080"/><rect x="311" y="763" width="5" height="7" fill="#808080"/><rect x="308" y="776" width="5" height="4" fill="#808080"/><rect x="290" y="819" width="7" height="4" fill="#808080"/><rect x="280" y="734" width="5" height="4" fill="#808080"/><rect x="290" y="780" width="5" height="4" fill="#808080"/><rect x="283" y="672" width="5" height="4" fill="#808080"/><rect x="309" y="796" width="5" height="10" fill="#808080"/><rect x="284" y="719" width="5" height="4" fill="#808080"/><rect x="275" y="669" width="4" height="10" fill="#808080"/><rect x="287" y="684" width="7" height="4" fill="#808080"/><rect x="270" y="690" width="5" height="10" fill="#808080"/><rect x="291" y="710" width="4" height="10" fill="#808080"/><rect x="313" y="803" width="7" height="10" fill="#808080"/><rect x="292" y="781" width="7" height="10" fill="#808080"/><rect x="285" y="715" width="4" height="7" fill="#808080"/><rect x="275" y="761" width="4" height="4" fill="#808080"/><rect x="276" y="724" width="7" height="4" fill="#808080"/><rect x="288" y="659" width="7" height="4" fill="#808080"/><rect x="301" y="820" width="4" height="4" fill="#808080"/><rect x="279" y="757" width="5" height="7" fill="#808080"/><rect x="291" y="754" width="4" height="7" fill="#808080"/><rect x="295" y="829" width="5" height="7" fill="#808080"/><rect x="272" y="656" width="5" height="10" fill="#808080"/><rect x="299" y="690" width="4" height="10" fill="#808080"/><rect x="299" y="644" width="7" height="7" fill="#808080"/><rect x="287" y="668" width="4" height="10" fill="#808080"/><rect x="293" y="697" width="4" height="10" fill="#808080"/><rect x="296" y="801" width="4" height="7" fill="#808080"/><rect x="295" y="787" width="7" height="7" fill="#808080"/><rect x="297" y="761" width="4" height="4" fill="#808080"/><rect x="304" y="795" width="4" height="4" fill="#808080"/><rect x="285" y="738" width="4" height="4" fill="#808080"/><rect x="108" y="625" width="6" height="6" fill="#444"/><rect x="118" y="592" width="5" height="5" fill="#444"/><path d="M150,560 L175,540 L200,555 L195,585 L160,585Z" fill="#555"/><g clip-path="url(#mmclip)"><ellipse cx="220" cy="440" rx="110" ry="100" fill="url(#gbase)" opacity="0.6"/><ellipse cx="300" cy="650" rx="45" ry="80" fill="url(#gbase)" opacity="0.7"/><circle cx="300.0" cy="340.0" r="46.0" fill="url(#gg)"/><circle cx="260.0" cy="380.0" r="57.49999999999999" fill="url(#gg)"/><circle cx="210.0" cy="420.0" r="57.49999999999999" fill="url(#gg)"/><circle cx="170.0" cy="470.0" r="57.49999999999999" fill="url(#gg)"/><circle cx="280.0" cy="550.0" r="46.0" fill="url(#gg)"/><circle cx="300.0" cy="600.0" r="34.5" fill="url(#gg)"/></g><g filter="url(#bp)"><circle cx="240.0" cy="128.0" r="31.72" fill="#f4d7c2"/><circle cx="228.0" cy="168.0" r="36.6" fill="#f4d7c2"/><circle cx="275.0" cy="185.0" r="31.72" fill="#f4d7c2"/><circle cx="290.0" cy="255.0" r="51.24" fill="#f4d7c2"/><circle cx="330.0" cy="250.0" r="24.4" fill="#f4d7c2"/><circle cx="215.0" cy="330.0" r="36.6" fill="#f4d7c2"/><circle cx="175.0" cy="325.0" r="24.4" fill="#f4d7c2"/><circle cx="80.0" cy="375.0" r="46.36" fill="#f4d7c2"/><circle cx="222.0" cy="542.0" r="36.6" fill="#f4d7c2"/></g><g><circle cx="285.0" cy="250.0" r="50.4" fill="url(#go)"/><circle cx="78.0" cy="378.0" r="50.4" fill="url(#go)"/></g><g></g></svg>
<svg style="left:1016px;top:60px" width="130" height="230" viewBox="0 0 488 864"><path d="M277.6,37.9 L295.5,53.7 L303.2,73.7 L318.6,83.7 L325.9,113.4 L321.1,153.1 L308.3,163.1 L293.0,177.8 L280.2,202.8 L282.7,227.5 L293.0,242.5 L328.4,232.5 L325.9,257.6 L354.0,279.7 L343.8,316.9 L374.1,321.9 L386.9,347.0 L417.3,334.5 L410.0,349.5 L394.6,366.6 L364.3,396.7 L338.7,411.3 L308.3,416.4 L285.3,423.2 L282.7,462.1 L277.6,486.8 L298.1,511.9 L313.4,536.5 L318.6,556.6 L328.4,559.1 L318.6,571.2 L316.0,591.3 L303.2,606.3 L308.3,625.9 L328.4,651.0 L338.7,665.7 L338.7,695.7 L348.9,715.4 L359.1,745.4 L343.8,770.1 L328.4,794.8 L318.6,819.8 L308.3,829.8 L303.2,819.8 L298.1,770.1 L295.5,710.4 L293.0,660.6 L285.3,625.9 L277.6,576.2 L262.6,551.6 L252.4,531.5 L249.8,511.9 L231.9,541.5 L216.9,556.6 L191.4,576.2 L181.5,586.2 L155.9,578.7 L140.5,571.2 L143.1,551.6 L150.8,531.5 L153.3,511.9 L145.7,486.8 L130.7,462.1 L120.4,442.1 L118.2,431.4 L93.0,401.7 L72.5,376.7 L57.9,350.2 L70.7,345.9 L74.7,316.9 L87.5,308.7 L95.9,275.8 L104.3,234.3 L121.5,238.2 L132.1,244.7 L138.3,238.2 L146.8,209.3 L155.2,184.6 L159.5,176.4 L176.4,151.3 L176.4,122.4 L193.5,114.1 L223.2,93.4 L240.0,91.6 L256.8,97.7 L248.4,76.9 L267.4,50.1Z" fill="#383838"/><rect x="276" y="702" width="7" height="4" fill="#808080"/><rect x="286" y="654" width="5" height="10" fill="#808080"/><rect x="285" y="651" width="4" height="4" fill="#808080"/><rect x="274" y="722" width="4" height="10" fill="#808080"/><rect x="301" y="721" width="4" height="4" fill="#808080"/><rect x="295" y="760" width="4" height="10" fill="#808080"/><rect x="275" y="751" width="4" height="4" fill="#808080"/><rect x="277" y="746" width="5" height="4" fill="#808080"/><rect x="294" y="743" width="7" height="10" fill="#808080"/><rect x="289" y="674" width="7" height="4" fill="#808080"/><rect x="291" y="711" width="4" height="10" fill="#808080"/><rect x="275" y="651" width="7" height="10" fill="#808080"/><rect x="283" y="721" width="7" height="7" fill="#808080"/><rect x="280" y="709" width="4" height="10" fill="#808080"/><rect x="277" y="788" width="5" height="10" fill="#808080"/><rect x="285" y="734" width="5" height="7" fill="#808080"/><rect x="276" y="756" width="7" height="7" fill="#808080"/><rect x="281" y="671" width="5" height="7" fill="#808080"/><rect x="290" y="647" width="7" height="10" fill="#808080"/><rect x="307" y="790" width="5" height="10" fill="#808080"/><rect x="288" y="707" width="5" height="4" fill="#808080"/><rect x="313" y="800" width="5" height="10" fill="#808080"/><rect x="276" y="766" width="7" height="7" fill="#808080"/><rect x="311" y="763" width="5" height="7" fill="#808080"/><rect x="308" y="776" width="5" height="4" fill="#808080"/><rect x="290" y="819" width="7" height="4" fill="#808080"/><rect x="280" y="734" width="5" height="4" fill="#808080"/><rect x="290" y="780" width="5" height="4" fill="#808080"/><rect x="283" y="672" width="5" height="4" fill="#808080"/><rect x="309" y="796" width="5" height="10" fill="#808080"/><rect x="284" y="719" width="5" height="4" fill="#808080"/><rect x="275" y="669" width="4" height="10" fill="#808080"/><rect x="287" y="684" width="7" height="4" fill="#808080"/><rect x="270" y="690" width="5" height="10" fill="#808080"/><rect x="291" y="710" width="4" height="10" fill="#808080"/><rect x="313" y="803" width="7" height="10" fill="#808080"/><rect x="292" y="781" width="7" height="10" fill="#808080"/><rect x="285" y="715" width="4" height="7" fill="#808080"/><rect x="275" y="761" width="4" height="4" fill="#808080"/><rect x="276" y="724" width="7" height="4" fill="#808080"/><rect x="288" y="659" width="7" height="4" fill="#808080"/><rect x="301" y="820" width="4" height="4" fill="#808080"/><rect x="279" y="757" width="5" height="7" fill="#808080"/><rect x="291" y="754" width="4" height="7" fill="#808080"/><rect x="295" y="829" width="5" height="7" fill="#808080"/><rect x="272" y="656" width="5" height="10" fill="#808080"/><rect x="299" y="690" width="4" height="10" fill="#808080"/><rect x="299" y="644" width="7" height="7" fill="#808080"/><rect x="287" y="668" width="4" height="10" fill="#808080"/><rect x="293" y="697" width="4" height="10" fill="#808080"/><rect x="296" y="801" width="4" height="7" fill="#808080"/><rect x="295" y="787" width="7" height="7" fill="#808080"/><rect x="297" y="761" width="4" height="4" fill="#808080"/><rect x="304" y="795" width="4" height="4" fill="#808080"/><rect x="285" y="738" width="4" height="4" fill="#808080"/><rect x="108" y="625" width="6" height="6" fill="#444"/><rect x="118" y="592" width="5" height="5" fill="#444"/><path d="M150,560 L175,540 L200,555 L195,585 L160,585Z" fill="#555"/><g clip-path="url(#mmclip)"><ellipse cx="220" cy="440" rx="110" ry="100" fill="url(#gbase)" opacity="0.6"/><ellipse cx="300" cy="650" rx="45" ry="80" fill="url(#gbase)" opacity="0.7"/><circle cx="270.0" cy="360.0" r="50.599999999999994" fill="url(#gg)"/><circle cx="310.0" cy="395.0" r="41.4" fill="url(#gg)"/><circle cx="200.0" cy="420.0" r="57.49999999999999" fill="url(#gg)"/><circle cx="180.0" cy="460.0" r="57.49999999999999" fill="url(#gg)"/><circle cx="300.0" cy="620.0" r="34.5" fill="url(#gg)"/></g><g filter="url(#bp)"><circle cx="250.0" cy="130.0" r="36.6" fill="#f4d7c2"/><circle cx="228.0" cy="170.0" r="36.6" fill="#f4d7c2"/><circle cx="275.0" cy="185.0" r="29.28" fill="#f4d7c2"/><circle cx="270.0" cy="125.0" r="26.84" fill="#f4d7c2"/><circle cx="285.0" cy="250.0" r="43.92" fill="#f4d7c2"/><circle cx="265.0" cy="295.0" r="36.6" fill="#f4d7c2"/><circle cx="215.0" cy="330.0" r="36.6" fill="#f4d7c2"/><circle cx="180.0" cy="325.0" r="26.84" fill="#f4d7c2"/><circle cx="88.0" cy="370.0" r="46.36" fill="#f4d7c2"/><circle cx="270.0" cy="490.0" r="34.16" fill="#f4d7c2"/><circle cx="220.0" cy="540.0" r="36.6" fill="#f4d7c2"/><circle cx="285.0" cy="545.0" r="26.84" fill="#f4d7c2"/></g><g><circle cx="245.0" cy="130.0" r="39.199999999999996" fill="url(#go)"/><circle cx="280.0" cy="260.0" r="44.8" fill="url(#go)"/></g><g></g></svg>
<svg style="left:1218px;top:60px" width="130" height="230" viewBox="0 0 488 864"><path d="M277.6,37.9 L295.5,53.7 L303.2,73.7 L318.6,83.7 L325.9,113.4 L321.1,153.1 L308.3,163.1 L293.0,177.8 L280.2,202.8 L282.7,227.5 L293.0,242.5 L328.4,232.5 L325.9,257.6 L354.0,279.7 L343.8,316.9 L374.1,321.9 L386.9,347.0 L417.3,334.5 L410.0,349.5 L394.6,366.6 L364.3,396.7 L338.7,411.3 L308.3,416.4 L285.3,423.2 L282.7,462.1 L277.6,486.8 L298.1,511.9 L313.4,536.5 L318.6,556.6 L328.4,559.1 L318.6,571.2 L316.0,591.3 L303.2,606.3 L308.3,625.9 L328.4,651.0 L338.7,665.7 L338.7,695.7 L348.9,715.4 L359.1,745.4 L343.8,770.1 L328.4,794.8 L318.6,819.8 L308.3,829.8 L303.2,819.8 L298.1,770.1 L295.5,710.4 L293.0,660.6 L285.3,625.9 L277.6,576.2 L262.6,551.6 L252.4,531.5 L249.8,511.9 L231.9,541.5 L216.9,556.6 L191.4,576.2 L181.5,586.2 L155.9,578.7 L140.5,571.2 L143.1,551.6 L150.8,531.5 L153.3,511.9 L145.7,486.8 L130.7,462.1 L120.4,442.1 L118.2,431.4 L93.0,401.7 L72.5,376.7 L57.9,350.2 L70.7,345.9 L74.7,316.9 L87.5,308.7 L95.9,275.8 L104.3,234.3 L121.5,238.2 L132.1,244.7 L138.3,238.2 L146.8,209.3 L155.2,184.6 L159.5,176.4 L176.4,151.3 L176.4,122.4 L193.5,114.1 L223.2,93.4 L240.0,91.6 L256.8,97.7 L248.4,76.9 L267.4,50.1Z" fill="#383838"/><rect x="276" y="702" width="7" height="4" fill="#808080"/><rect x="286" y="654" width="5" height="10" fill="#808080"/><rect x="285" y="651" width="4" height="4" fill="#808080"/><rect x="274" y="722" width="4" height="10" fill="#808080"/><rect x="301" y="721" width="4" height="4" fill="#808080"/><rect x="295" y="760" width="4" height="10" fill="#808080"/><rect x="275" y="751" width="4" height="4" fill="#808080"/><rect x="277" y="746" width="5" height="4" fill="#808080"/><rect x="294" y="743" width="7" height="10" fill="#808080"/><rect x="289" y="674" width="7" height="4" fill="#808080"/><rect x="291" y="711" width="4" height="10" fill="#808080"/><rect x="275" y="651" width="7" height="10" fill="#808080"/><rect x="283" y="721" width="7" height="7" fill="#808080"/><rect x="280" y="709" width="4" height="10" fill="#808080"/><rect x="277" y="788" width="5" height="10" fill="#808080"/><rect x="285" y="734" width="5" height="7" fill="#808080"/><rect x="276" y="756" width="7" height="7" fill="#808080"/><rect x="281" y="671" width="5" height="7" fill="#808080"/><rect x="290" y="647" width="7" height="10" fill="#808080"/><rect x="307" y="790" width="5" height="10" fill="#808080"/><rect x="288" y="707" width="5" height="4" fill="#808080"/><rect x="313" y="800" width="5" height="10" fill="#808080"/><rect x="276" y="766" width="7" height="7" fill="#808080"/><rect x="311" y="763" width="5" height="7" fill="#808080"/><rect x="308" y="776" width="5" height="4" fill="#808080"/><rect x="290" y="819" width="7" height="4" fill="#808080"/><rect x="280" y="734" width="5" height="4" fill="#808080"/><rect x="290" y="780" width="5" height="4" fill="#808080"/><rect x="283" y="672" width="5" height="4" fill="#808080"/><rect x="309" y="796" width="5" height="10" fill="#808080"/><rect x="284" y="719" width="5" height="4" fill="#808080"/><rect x="275" y="669" width="4" height="10" fill="#808080"/><rect x="287" y="684" width="7" height="4" fill="#808080"/><rect x="270" y="690" width="5" height="10" fill="#808080"/><rect x="291" y="710" width="4" height="10" fill="#808080"/><rect x="313" y="803" width="7" height="10" fill="#808080"/><rect x="292" y="781" width="7" height="10" fill="#808080"/><rect x="285" y="715" width="4" height="7" fill="#808080"/><rect x="275" y="761" width="4" height="4" fill="#808080"/><rect x="276" y="724" width="7" height="4" fill="#808080"/><rect x="288" y="659" width="7" height="4" fill="#808080"/><rect x="301" y="820" width="4" height="4" fill="#808080"/><rect x="279" y="757" width="5" height="7" fill="#808080"/><rect x="291" y="754" width="4" height="7" fill="#808080"/><rect x="295" y="829" width="5" height="7" fill="#808080"/><rect x="272" y="656" width="5" height="10" fill="#808080"/><rect x="299" y="690" width="4" height="10" fill="#808080"/><rect x="299" y="644" width="7" height="7" fill="#808080"/><rect x="287" y="668" width="4" height="10" fill="#808080"/><rect x="293" y="697" width="4" height="10" fill="#808080"/><rect x="296" y="801" width="4" height="7" fill="#808080"/><rect x="295" y="787" width="7" height="7" fill="#808080"/><rect x="297" y="761" width="4" height="4" fill="#808080"/><rect x="304" y="795" width="4" height="4" fill="#808080"/><rect x="285" y="738" width="4" height="4" fill="#808080"/><rect x="108" y="625" width="6" height="6" fill="#444"/><rect x="118" y="592" width="5" height="5" fill="#444"/><path d="M150,560 L175,540 L200,555 L195,585 L160,585Z" fill="#555"/><g clip-path="url(#mmclip)"><ellipse cx="220" cy="440" rx="110" ry="100" fill="url(#gbase)" opacity="0.6"/><ellipse cx="300" cy="650" rx="45" ry="80" fill="url(#gbase)" opacity="0.7"/><circle cx="225.0" cy="170.0" r="50.599999999999994" fill="url(#gg)"/><circle cx="140.0" cy="270.0" r="46.0" fill="url(#gg)"/><circle cx="260.0" cy="375.0" r="46.0" fill="url(#gg)"/><circle cx="210.0" cy="410.0" r="57.49999999999999" fill="url(#gg)"/><circle cx="320.0" cy="700.0" r="34.5" fill="url(#gg)"/><circle cx="280.0" cy="470.0" r="57.49999999999999" fill="url(#gg)"/></g><g filter="url(#bp)"><circle cx="270.0" cy="180.0" r="29.28" fill="#f4d7c2"/><circle cx="285.0" cy="265.0" r="48.8" fill="#f4d7c2"/><circle cx="305.0" cy="240.0" r="30.5" fill="#f4d7c2"/><circle cx="215.0" cy="330.0" r="42.699999999999996" fill="#f4d7c2"/><circle cx="185.0" cy="345.0" r="30.5" fill="#f4d7c2"/><circle cx="95.0" cy="385.0" r="54.9" fill="#f4d7c2"/><circle cx="120.0" cy="420.0" r="36.6" fill="#f4d7c2"/><circle cx="135.0" cy="420.0" r="34.16" fill="#f4d7c2"/><circle cx="262.0" cy="420.0" r="34.16" fill="#f4d7c2"/><circle cx="200.0" cy="490.0" r="26.84" fill="#f4d7c2"/><circle cx="170.0" cy="540.0" r="34.16" fill="#f4d7c2"/><circle cx="222.0" cy="540.0" r="39.04" fill="#f4d7c2"/><circle cx="290.0" cy="545.0" r="31.72" fill="#f4d7c2"/><circle cx="298.0" cy="605.0" r="26.84" fill="#f4d7c2"/></g><g><circle cx="275.0" cy="280.0" r="56.0" fill="url(#go)"/><circle cx="95.0" cy="380.0" r="56.0" fill="url(#go)"/><circle cx="222.0" cy="542.0" r="39.199999999999996" fill="url(#go)"/></g><g><ellipse cx="95.0" cy="378.0" rx="37.4" ry="46.2" transform="rotate(-15 95.0 378.0)" fill="url(#gr)"/></g></svg>
<svg style="left:1420px;top:60px" width="130" height="230" viewBox="0 0 488 864"><path d="M277.6,37.9 L295.5,53.7 L303.2,73.7 L318.6,83.7 L325.9,113.4 L321.1,153.1 L308.3,163.1 L293.0,177.8 L280.2,202.8 L282.7,227.5 L293.0,242.5 L328.4,232.5 L325.9,257.6 L354.0,279.7 L343.8,316.9 L374.1,321.9 L386.9,347.0 L417.3,334.5 L410.0,349.5 L394.6,366.6 L364.3,396.7 L338.7,411.3 L308.3,416.4 L285.3,423.2 L282.7,462.1 L277.6,486.8 L298.1,511.9 L313.4,536.5 L318.6,556.6 L328.4,559.1 L318.6,571.2 L316.0,591.3 L303.2,606.3 L308.3,625.9 L328.4,651.0 L338.7,665.7 L338.7,695.7 L348.9,715.4 L359.1,745.4 L343.8,770.1 L328.4,794.8 L318.6,819.8 L308.3,829.8 L303.2,819.8 L298.1,770.1 L295.5,710.4 L293.0,660.6 L285.3,625.9 L277.6,576.2 L262.6,551.6 L252.4,531.5 L249.8,511.9 L231.9,541.5 L216.9,556.6 L191.4,576.2 L181.5,586.2 L155.9,578.7 L140.5,571.2 L143.1,551.6 L150.8,531.5 L153.3,511.9 L145.7,486.8 L130.7,462.1 L120.4,442.1 L118.2,431.4 L93.0,401.7 L72.5,376.7 L57.9,350.2 L70.7,345.9 L74.7,316.9 L87.5,308.7 L95.9,275.8 L104.3,234.3 L121.5,238.2 L132.1,244.7 L138.3,238.2 L146.8,209.3 L155.2,184.6 L159.5,176.4 L176.4,151.3 L176.4,122.4 L193.5,114.1 L223.2,93.4 L240.0,91.6 L256.8,97.7 L248.4,76.9 L267.4,50.1Z" fill="#383838"/><rect x="276" y="702" width="7" height="4" fill="#808080"/><rect x="286" y="654" width="5" height="10" fill="#808080"/><rect x="285" y="651" width="4" height="4" fill="#808080"/><rect x="274" y="722" width="4" height="10" fill="#808080"/><rect x="301" y="721" width="4" height="4" fill="#808080"/><rect x="295" y="760" width="4" height="10" fill="#808080"/><rect x="275" y="751" width="4" height="4" fill="#808080"/><rect x="277" y="746" width="5" height="4" fill="#808080"/><rect x="294" y="743" width="7" height="10" fill="#808080"/><rect x="289" y="674" width="7" height="4" fill="#808080"/><rect x="291" y="711" width="4" height="10" fill="#808080"/><rect x="275" y="651" width="7" height="10" fill="#808080"/><rect x="283" y="721" width="7" height="7" fill="#808080"/><rect x="280" y="709" width="4" height="10" fill="#808080"/><rect x="277" y="788" width="5" height="10" fill="#808080"/><rect x="285" y="734" width="5" height="7" fill="#808080"/><rect x="276" y="756" width="7" height="7" fill="#808080"/><rect x="281" y="671" width="5" height="7" fill="#808080"/><rect x="290" y="647" width="7" height="10" fill="#808080"/><rect x="307" y="790" width="5" height="10" fill="#808080"/><rect x="288" y="707" width="5" height="4" fill="#808080"/><rect x="313" y="800" width="5" height="10" fill="#808080"/><rect x="276" y="766" width="7" height="7" fill="#808080"/><rect x="311" y="763" width="5" height="7" fill="#808080"/><rect x="308" y="776" width="5" height="4" fill="#808080"/><rect x="290" y="819" width="7" height="4" fill="#808080"/><rect x="280" y="734" width="5" height="4" fill="#808080"/><rect x="290" y="780" width="5" height="4" fill="#808080"/><rect x="283" y="672" width="5" height="4" fill="#808080"/><rect x="309" y="796" width="5" height="10" fill="#808080"/><rect x="284" y="719" width="5" height="4" fill="#808080"/><rect x="275" y="669" width="4" height="10" fill="#808080"/><rect x="287" y="684" width="7" height="4" fill="#808080"/><rect x="270" y="690" width="5" height="10" fill="#808080"/><rect x="291" y="710" width="4" height="10" fill="#808080"/><rect x="313" y="803" width="7" height="10" fill="#808080"/><rect x="292" y="781" width="7" height="10" fill="#808080"/><rect x="285" y="715" width="4" height="7" fill="#808080"/><rect x="275" y="761" width="4" height="4" fill="#808080"/><rect x="276" y="724" width="7" height="4" fill="#808080"/><rect x="288" y="659" width="7" height="4" fill="#808080"/><rect x="301" y="820" width="4" height="4" fill="#808080"/><rect x="279" y="757" width="5" height="7" fill="#808080"/><rect x="291" y="754" width="4" height="7" fill="#808080"/><rect x="295" y="829" width="5" height="7" fill="#808080"/><rect x="272" y="656" width="5" height="10" fill="#808080"/><rect x="299" y="690" width="4" height="10" fill="#808080"/><rect x="299" y="644" width="7" height="7" fill="#808080"/><rect x="287" y="668" width="4" height="10" fill="#808080"/><rect x="293" y="697" width="4" height="10" fill="#808080"/><rect x="296" y="801" width="4" height="7" fill="#808080"/><rect x="295" y="787" width="7" height="7" fill="#808080"/><rect x="297" y="761" width="4" height="4" fill="#808080"/><rect x="304" y="795" width="4" height="4" fill="#808080"/><rect x="285" y="738" width="4" height="4" fill="#808080"/><rect x="108" y="625" width="6" height="6" fill="#444"/><rect x="118" y="592" width="5" height="5" fill="#444"/><path d="M150,560 L175,540 L200,555 L195,585 L160,585Z" fill="#555"/><g clip-path="url(#mmclip)"><ellipse cx="220" cy="440" rx="110" ry="100" fill="url(#gbase)" opacity="0.6"/><ellipse cx="300" cy="650" rx="45" ry="80" fill="url(#gbase)" opacity="0.7"/><circle cx="180.0" cy="200.0" r="57.49999999999999" fill="url(#gg)"/><circle cx="260.0" cy="180.0" r="46.0" fill="url(#gg)"/><circle cx="300.0" cy="320.0" r="46.0" fill="url(#gg)"/><circle cx="260.0" cy="390.0" r="57.49999999999999" fill="url(#gg)"/><circle cx="200.0" cy="420.0" r="57.49999999999999" fill="url(#gg)"/><circle cx="300.0" cy="600.0" r="34.5" fill="url(#gg)"/></g><g filter="url(#bp)"><circle cx="290.0" cy="245.0" r="34.16" fill="#f4d7c2"/><circle cx="260.0" cy="295.0" r="36.6" fill="#f4d7c2"/><circle cx="215.0" cy="330.0" r="36.6" fill="#f4d7c2"/><circle cx="175.0" cy="325.0" r="26.84" fill="#f4d7c2"/><circle cx="90.0" cy="383.0" r="51.24" fill="#f4d7c2"/><circle cx="118.0" cy="415.0" r="34.16" fill="#f4d7c2"/><circle cx="140.0" cy="430.0" r="34.16" fill="#f4d7c2"/><circle cx="270.0" cy="490.0" r="36.6" fill="#f4d7c2"/><circle cx="220.0" cy="540.0" r="36.6" fill="#f4d7c2"/><circle cx="305.0" cy="548.0" r="29.28" fill="#f4d7c2"/></g><g><circle cx="255.0" cy="295.0" r="39.199999999999996" fill="url(#go)"/><circle cx="92.0" cy="380.0" r="53.199999999999996" fill="url(#go)"/></g><g><ellipse cx="92.0" cy="380.0" rx="34.0" ry="42.0" transform="rotate(-15 92.0 380.0)" fill="url(#gr)"/></g></svg>
<svg style="left:0;top:0" width="1602" height="864" viewBox="0 0 1602 864"><path d="M924.4,620.3 L929.3,624.7 L931.4,630.3 L935.6,633.1 L937.6,641.4 L936.3,652.5 L932.8,655.3 L928.6,659.4 L925.1,666.4 L925.8,673.3 L928.6,677.5 L938.3,674.7 L937.6,681.7 L945.3,687.9 L942.5,698.3 L950.8,699.7 L954.3,706.7 L962.6,703.2 L960.6,707.4 L956.4,712.2 L948.1,720.6 L941.1,724.7 L932.8,726.1 L926.5,728.0 L925.8,738.9 L924.4,745.8 L930.0,752.8 L934.2,759.7 L935.6,765.3 L938.3,766.0 L935.6,769.4 L934.9,775.0 L931.4,779.2 L932.8,784.7 L938.3,791.7 L941.1,795.8 L941.1,804.2 L943.9,809.7 L946.7,818.1 L942.5,825.0 L938.3,831.9 L935.6,838.9 L932.8,841.7 L931.4,838.9 L930.0,825.0 L929.3,808.3 L928.6,794.4 L926.5,784.7 L924.4,770.8 L920.3,763.9 L917.5,758.3 L916.8,752.8 L911.9,761.1 L907.8,765.3 L900.8,770.8 L898.1,773.6 L891.1,771.5 L886.9,769.4 L887.6,763.9 L889.7,758.3 L890.4,752.8 L888.3,745.8 L884.2,738.9 L881.4,733.3 L880.8,730.3 L873.9,722.0 L868.3,715.0 L864.3,707.6 L867.8,706.4 L868.9,698.3 L872.4,696.0 L874.7,686.8 L877.0,675.2 L881.7,676.3 L884.6,678.1 L886.3,676.3 L888.6,668.2 L890.9,661.3 L892.1,659.0 L896.7,652.0 L896.7,643.9 L901.4,641.6 L909.5,635.8 L914.1,635.3 L918.7,637.0 L916.4,631.2 L921.6,623.7Z" fill="#000"/><path d="M913.3,676.1 L921.7,678.2 L925.8,673.3 L928.6,677.5 L938.3,674.7 L937.6,681.7 L945.3,687.9 L942.5,698.3 L950.8,699.7 L954.3,706.7 L962.6,703.2 L960.6,707.4 L956.4,712.2 L948.1,720.6 L941.1,724.7 L932.8,726.1 L927.2,727.5 L918.9,724.7 L914.7,730.3 L911.9,717.8 L910.6,709.4 L914.7,699.7 L910.6,692.8 L914.0,690.0 L909.2,685.8Z" fill="#ff0000" stroke="#999" stroke-width="0.6"/><polyline fill="none" stroke="#8a8a8a" stroke-width="0.8" points="918.3,637.2 908.6,640 907.2,651.1 905.8,662.2 908.6,670.6 912.8,676.1"/><polyline fill="none" stroke="#8a8a8a" stroke-width="0.8" points="885,676.8 885.7,692.8 886.4,703.9 885,712.2 883.6,734.4 893.3,740.3 900.5,748.9 904.9,756.2 906.3,763.4"/><polyline fill="none" stroke="#8a8a8a" stroke-width="0.8" points="886.4,698.3 896.1,702.5 898.9,701.1 905.8,698.3 912.8,697"/><polyline fill="none" stroke="#8a8a8a" stroke-width="0.8" points="896.1,702.5 893,712 897,718 903.4,728.7 910.7,728.7 915,737.4 919.3,748.9 917.9,754.7 922.2,763.4 926.6,767.8 930.9,777.9"/><polyline fill="none" stroke="#8a8a8a" stroke-width="0.8" points="884.6,720 893.3,735.9 903.4,728.7"/><polyline fill="none" stroke="#8a8a8a" stroke-width="0.8" points="907.8,748.9 912.1,756.2 915,760.5"/><polyline fill="none" stroke="#8a8a8a" stroke-width="0.8" points="917.9,728.7 920.8,737.4 923.7,743.2"/><polyline fill="none" stroke="#8a8a8a" stroke-width="0.8" points="905.8,698.3 908,712 912.8,720.6"/><polyline fill="none" stroke="#666" stroke-width="1.6" points="866,709 870,716 874,722 879,728 882,733"/><path d="M889,764 L896,768 L901,769 L897,773 L889,771Z" fill="#555"/><rect x="875" y="790" width="1" height="1.5" fill="#444"/><rect x="877" y="781" width="1" height="1" fill="#444"/><rect x="927.8" y="814.5" width="1.2" height="1.5" fill="#666"/><rect x="929.9" y="814.4" width="1.2" height="1" fill="#666"/><rect x="927.0" y="802.9" width="1.2" height="2" fill="#666"/><rect x="925.5" y="821.4" width="1.2" height="1.5" fill="#666"/><rect x="924.2" y="808.0" width="1.2" height="2" fill="#666"/><rect x="928.4" y="822.3" width="1.2" height="1.5" fill="#666"/><rect x="929.5" y="836.5" width="1.2" height="2" fill="#666"/><rect x="928.7" y="823.0" width="1.2" height="2" fill="#666"/><rect x="923.4" y="797.7" width="1.2" height="1" fill="#666"/><rect x="929.6" y="820.8" width="1.2" height="1.5" fill="#666"/><rect x="929.8" y="813.9" width="1.2" height="2" fill="#666"/><rect x="925.5" y="805.0" width="1.2" height="1" fill="#666"/><rect x="927.5" y="823.5" width="1.2" height="1.5" fill="#666"/><rect x="927.7" y="812.5" width="1.2" height="1" fill="#666"/><rect x="926.6" y="825.4" width="1.2" height="1" fill="#666"/><rect x="924.2" y="817.1" width="1.2" height="2" fill="#666"/><rect x="927.3" y="828.0" width="1.2" height="1.5" fill="#666"/><rect x="930.5" y="811.6" width="1.2" height="2" fill="#666"/><rect x="924.5" y="795.0" width="1.2" height="1" fill="#666"/><rect x="930.8" y="815.2" width="1.2" height="1.5" fill="#666"/><rect x="927.8" y="813.1" width="1.2" height="1" fill="#666"/><rect x="926.4" y="828.5" width="1.2" height="1" fill="#666"/><rect x="923.7" y="808.4" width="1.2" height="1.5" fill="#666"/><rect x="925.3" y="827.6" width="1.2" height="1" fill="#666"/><rect x="924.5" y="825.4" width="1.2" height="1.5" fill="#666"/><rect x="925.8" y="829.3" width="1.2" height="2" fill="#666"/><rect x="926.9" y="803.1" width="1.2" height="2" fill="#666"/><rect x="927.5" y="828.1" width="1.2" height="1.5" fill="#666"/><rect x="926.2" y="800.0" width="1.2" height="1" fill="#666"/><rect x="929.1" y="795.0" width="1.2" height="2" fill="#666"/><rect x="929.8" y="808.1" width="1.2" height="1" fill="#666"/><rect x="930.3" y="803.1" width="1.2" height="2" fill="#666"/><rect x="925.0" y="822.6" width="1.2" height="1" fill="#666"/><rect x="925.2" y="804.2" width="1.2" height="2" fill="#666"/><rect x="925.7" y="809.1" width="1.2" height="1" fill="#666"/><rect x="924.6" y="798.2" width="1.2" height="2" fill="#666"/><rect x="927.7" y="805.4" width="1.2" height="1.5" fill="#666"/><rect x="925.1" y="821.8" width="1.2" height="2" fill="#666"/><rect x="928.0" y="815.8" width="1.2" height="1.5" fill="#666"/><rect x="924.4" y="802.9" width="1.2" height="1" fill="#666"/></svg>
<svg style="left:40px;top:85px" width="100" height="110" viewBox="0 0 785 864"><g stroke="#000" stroke-width="30" stroke-linecap="round"><line x1="368" y1="95" x2="368" y2="532"/><line x1="178" y1="207" x2="555" y2="423"/><line x1="178" y1="423" x2="555" y2="207"/></g></svg>
<svg style="left:35px;top:205px" width="110" height="120" viewBox="0 0 792 864"><g fill="#000"><circle cx="195" cy="200" r="50"/><path d="M236,40 L262,52 L326,178 L292,196 L226,66Z"/><circle cx="567" cy="318" r="50"/></g><g stroke="#000" fill="none" stroke-linecap="round" stroke-linejoin="round"><line x1="282" y1="210" x2="345" y2="182" stroke-width="26"/><path d="M325,225 C320,270 280,285 235,285" stroke-width="42"/><path d="M230,285 L120,300 L85,335 L100,390" stroke-width="40"/><path d="M140,295 L250,282 L235,420 L170,440Z" fill="#000" stroke-width="30"/><path d="M180,450 L110,585" stroke-width="46"/><path d="M215,430 L285,445 L248,528" stroke-width="46"/><line x1="512" y1="228" x2="524" y2="250" stroke-width="22"/><line x1="567" y1="212" x2="567" y2="238" stroke-width="22"/><line x1="624" y1="228" x2="612" y2="250" stroke-width="22"/><line x1="395" y1="410" x2="462" y2="410" stroke-width="20"/><path d="M420,455 L520,440" stroke-width="40"/><path d="M530,415 L615,415 L600,550 L545,560Z" fill="#000" stroke-width="30"/><path d="M615,420 L680,455 L660,515" stroke-width="40"/><path d="M545,575 L492,620 L492,700" stroke-width="46"/><path d="M585,580 L640,700" stroke-width="46"/></g><path d="M406,268 L425,236 L446,268 L442,405 L410,405Z" fill="#000"/></svg>
<svg style="left:25px;top:340px" width="130" height="120" viewBox="0 0 936 864"><g fill="#000"><circle cx="340" cy="205" r="68"/><circle cx="405" cy="165" r="62"/><circle cx="495" cy="150" r="62"/><circle cx="565" cy="205" r="62"/><circle cx="540" cy="265" r="60"/><circle cx="385" cy="265" r="62"/><circle cx="460" cy="240" r="85"/><path d="M428,300 L488,300 L482,470 L432,470Z"/><circle cx="385" cy="518" r="48"/><circle cx="452" cy="522" r="48"/><circle cx="520" cy="515" r="46"/></g><ellipse cx="455" cy="430" rx="58" ry="22" fill="none" stroke="#000" stroke-width="22"/><g fill="none" stroke="#ddd" stroke-width="6"><path d="M375,225 A45,45 0 0,0 415,270"/><path d="M480,135 A40,40 0 0,1 520,175"/><path d="M575,230 A40,40 0 0,1 545,270"/></g></svg>
<svg style="left:40px;top:460px" width="110" height="130" viewBox="0 0 731 864"><g fill="#000"><rect x="90" y="55" width="215" height="155" rx="25"/><path d="M228,205 L278,205 L270,250Z"/><circle cx="330" cy="305" r="45"/><path d="M385,285 L525,195 L565,290 L395,312Z"/></g><ellipse cx="545" cy="242" rx="22" ry="52" transform="rotate(-25 545 242)" fill="#fff" stroke="#000" stroke-width="12"/><g stroke="#000" fill="none" stroke-linecap="round" stroke-linejoin="round"><path d="M192,265 L245,368 L300,385" stroke-width="36"/><path d="M330,385 L330,540" stroke-width="100"/><path d="M305,540 L285,680" stroke-width="36"/><path d="M355,540 L375,680" stroke-width="36"/><path d="M365,392 L415,415 L450,322" stroke-width="36"/><path d="M572,195 L598,183" stroke-width="9"/><path d="M582,222 L612,218" stroke-width="9"/><path d="M592,250 L622,254" stroke-width="9"/></g></svg>
<svg style="left:30px;top:610px" width="120" height="110" viewBox="0 0 943 864"><g fill="#000"><circle cx="315" cy="200" r="48"/><path d="M88,108 C110,92 138,100 150,122 C160,104 188,108 202,126 C218,142 228,165 214,188 L182,202 C168,178 138,162 116,142 C100,130 90,122 88,108Z"/><path d="M600,475 C578,430 592,388 642,335 C632,380 662,398 682,425 C694,405 692,385 688,372 C715,405 714,445 694,478Z"/><path d="M728,505 C718,472 740,452 772,436 C766,458 788,472 786,505Z"/><path d="M598,522 C598,474 640,452 682,458 L832,540 C862,552 862,572 846,592 L816,636 L600,548Z" stroke="#fff" stroke-width="6"/><rect x="535" y="545" width="265" height="100" rx="30" stroke="#fff" stroke-width="6"/></g><g stroke="#000" fill="none" stroke-linecap="round" stroke-linejoin="round"><path d="M105,262 L185,180" stroke-width="46"/><path d="M160,240 L225,325 L310,280" stroke-width="40"/><path d="M320,280 L450,245 L550,205" stroke-width="40"/><path d="M330,270 L325,440" stroke-width="72"/><path d="M315,440 L320,510 L205,592" stroke-width="46"/><path d="M345,445 L420,515 L415,630" stroke-width="46"/></g><g stroke="#888" stroke-width="6"><line x1="548" y1="595" x2="790" y2="595"/></g><g stroke="#777" stroke-width="5"><line x1="560" y1="585" x2="575" y2="565"/><line x1="560" y1="610" x2="575" y2="630"/><line x1="582" y1="585" x2="597" y2="565"/><line x1="582" y1="610" x2="597" y2="630"/><line x1="604" y1="585" x2="619" y2="565"/><line x1="604" y1="610" x2="619" y2="630"/><line x1="626" y1="585" x2="641" y2="565"/><line x1="626" y1="610" x2="641" y2="630"/><line x1="648" y1="585" x2="663" y2="565"/><line x1="648" y1="610" x2="663" y2="630"/><line x1="670" y1="585" x2="685" y2="565"/><line x1="670" y1="610" x2="685" y2="630"/><line x1="692" y1="585" x2="707" y2="565"/><line x1="692" y1="610" x2="707" y2="630"/><line x1="714" y1="585" x2="729" y2="565"/><line x1="714" y1="610" x2="729" y2="630"/><line x1="736" y1="585" x2="751" y2="565"/><line x1="736" y1="610" x2="751" y2="630"/><line x1="758" y1="585" x2="773" y2="565"/><line x1="758" y1="610" x2="773" y2="630"/></g></svg>
<svg style="left:30px;top:750px" width="120" height="114" viewBox="0 0 909 864"><g fill="#000"><path d="M368,68 L470,52 C520,52 542,98 540,140 C538,176 520,192 495,198 L420,220 L392,125Z"/><path d="M135,240 C150,170 240,110 330,108 C360,110 370,140 360,175 C355,220 380,250 400,280 C420,330 420,390 380,420 L300,440 L240,500 C215,510 190,495 185,470 L230,400 C180,350 130,300 135,240Z"/><path d="M100,440 C110,420 150,415 200,420 L300,420 C350,380 440,345 500,350 L620,420 C640,440 630,470 600,470 L420,470 C380,490 330,480 300,470 L120,475 C100,470 95,455 100,440Z"/><circle cx="725" cy="405" r="58"/><path d="M625,340 L650,300 L670,320 L690,270 L710,300 L725,245 L745,290 L770,260 L775,300 L800,300 L770,335 L740,310 L700,330 L660,330Z"/></g><path d="M404,132 L488,152 L494,192 L424,212Z" fill="#fff"/><path d="M430,160 L470,175" stroke="#999" stroke-width="5"/><path d="M670,430 C700,450 750,445 780,420 C770,470 720,500 650,500 C670,480 680,460 670,430Z" fill="#fff" stroke="#000" stroke-width="8"/><g fill="none" stroke="#fff" stroke-width="8" stroke-linecap="round"><path d="M330,130 C300,140 300,200 300,260 L420,370 C430,380 440,385 450,380"/><path d="M380,380 C420,400 470,395 500,380 L600,440 C615,455 605,465 590,460"/></g><g stroke="#fff" stroke-width="7"><path d="M215,440 L285,420"/><path d="M225,470 L270,455"/><path d="M180,470 L240,395" stroke-width="5"/></g><g fill="none" stroke="#555" stroke-width="6"><path d="M90,395 C100,380 115,380 122,385"/><path d="M95,405 C105,392 118,390 125,395"/><path d="M500,310 C510,305 525,310 530,318"/><path d="M800,370 C815,380 820,395 815,410"/></g></svg>
</body></html>
